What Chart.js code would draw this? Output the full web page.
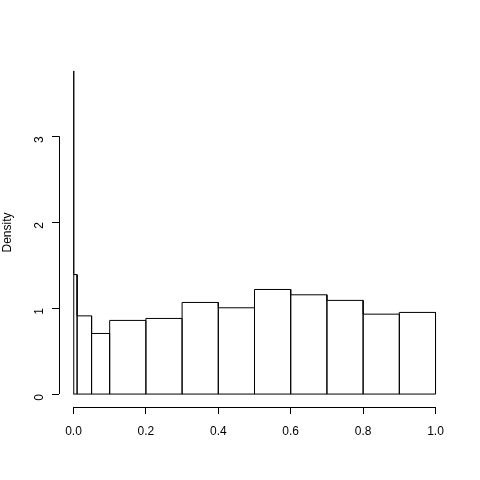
<!DOCTYPE html>
<html>
<head>
<meta charset="utf-8">
<script src="https://cdn.jsdelivr.net/npm/chart.js@4"></script>
<style>
	html, body { margin: 0; padding: 0; background: #fff; }
	#wrap { width: 480px; height: 480px; }
</style>
</head>
<body>
<div id="wrap"><canvas id="chartContainer" width="480" height="480"></canvas></div>
<script>
// histogram breaks and densities (unequal bin widths)
const breaks = [0, 0.001, 0.01, 0.05, 0.1, 0.2, 0.3, 0.4, 0.5, 0.6, 0.7, 0.8, 0.9, 1.0];
const density = [3.76, 1.39, 0.91, 0.705, 0.857, 0.88, 1.066, 1.004, 1.217, 1.155, 1.09, 0.93, 0.95];
const xTicks = [0, 0.2, 0.4, 0.6, 0.8, 1.0];
const yTicks = [0, 1, 2, 3];

// outline of every rectangle, one continuous path
function outline() {
	var pts = [{ x: breaks[0], y: 0 }];
	for (var i = 0; i < density.length; i++) {
		pts.push({ x: breaks[i], y: density[i] });
		pts.push({ x: breaks[i + 1], y: density[i] });
		pts.push({ x: breaks[i + 1], y: 0 });
	}
	pts.push({ x: breaks[0], y: 0 });
	return pts;
}

const axisLines = {
	id: "axisLines",
	afterDraw(chart) {
		const c = chart.ctx;
		const xs = chart.scales.x, ys = chart.scales.y;
		c.save();
		c.strokeStyle = "#000";
		c.lineWidth = 1;
		c.beginPath();
		const yb = Math.round(chart.chartArea.bottom) + 0.5;
		c.moveTo(xs.getPixelForValue(xTicks[0]), yb);
		c.lineTo(xs.getPixelForValue(xTicks[xTicks.length - 1]), yb);
		const xl = Math.round(chart.chartArea.left) + 0.5;
		c.moveTo(xl, ys.getPixelForValue(yTicks[0]));
		c.lineTo(xl, ys.getPixelForValue(yTicks[yTicks.length - 1]));
		c.stroke();
		c.restore();
	},
};

const font = { family: "'Liberation Sans', Arial, sans-serif", size: 12 };

new Chart(document.getElementById("chartContainer"), {
	type: "line",
	data: {
		datasets: [
			{
				data: outline(),
				borderColor: "#000",
				borderWidth: 1,
				pointRadius: 0,
				tension: 0,
				fill: false,
			},
		],
	},
	plugins: [axisLines],
	options: {
		responsive: false,
		animation: false,
		layout: { padding: { top: 58, right: 30, bottom: 0, left: 0 } },
		plugins: { legend: { display: false }, tooltip: { enabled: false } },
		scales: {
			x: {
				type: "linear",
				min: -0.04,
				max: 1.04,
				afterBuildTicks: (s) => { s.ticks = xTicks.map((v) => ({ value: v })); },
				afterFit: (s) => { s.height = 73; },
				border: { display: false },
				grid: { drawOnChartArea: false, drawTicks: true, tickLength: 7, color: "#000" },
				ticks: { color: "#000", font: font, padding: 10, maxRotation: 0, callback: (v) => v.toFixed(1) },
			},
			y: {
				type: "linear",
				min: -0.1504,
				max: 3.9104,
				afterBuildTicks: (s) => { s.ticks = yTicks.map((v) => ({ value: v })); },
				afterFit: (s) => { s.width = 59; },
				border: { display: false },
				grid: { drawOnChartArea: false, drawTicks: true, tickLength: 7, color: "#000" },
				ticks: { color: "#000", font: font, padding: 12, minRotation: 90, maxRotation: 90 },
				title: { display: true, text: "Density", color: "#000", font: font, padding: 0 },
			},
		},
	},
});
</script>
</body>
</html>
